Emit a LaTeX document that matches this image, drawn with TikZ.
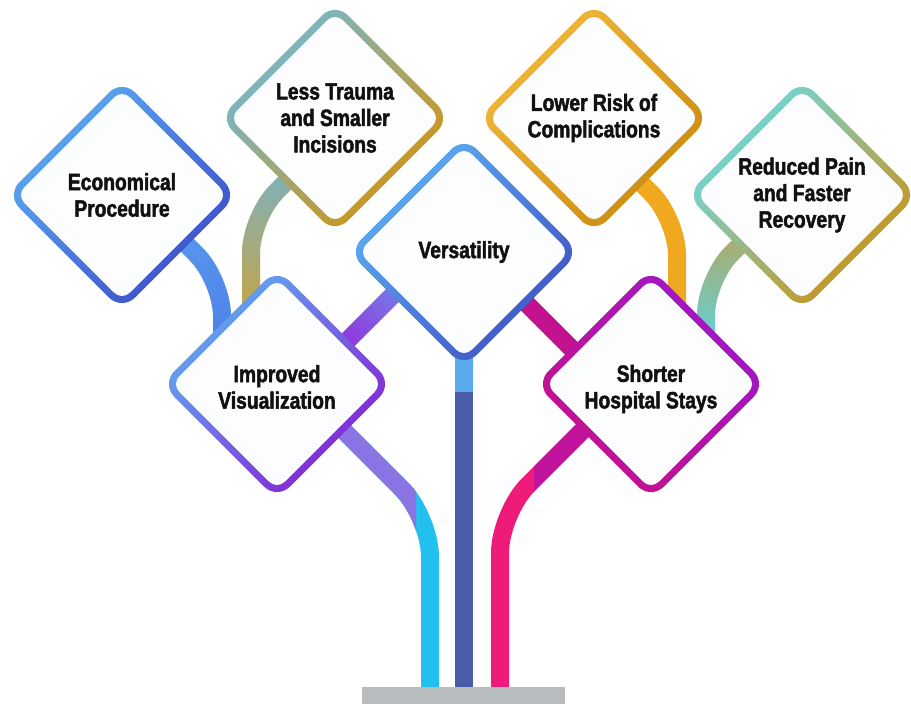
\documentclass[tikz,border=0pt]{standalone}
\usepackage{fontspec}
\newfontfamily\labelfont{Liberation Sans}[FakeStretch=0.82,FakeBold=2]
\usetikzlibrary{shapes.geometric,fadings}

% rim colours (top-left / bottom-right)
\definecolor{ink}{HTML}{111111}
\definecolor{faceC}{HTML}{FBFDFE}
\definecolor{ecoA}{HTML}{5DAEF3}\definecolor{ecoB}{HTML}{3B4BC6}
\definecolor{lesA}{HTML}{6EBBD9}\definecolor{lesB}{HTML}{D6920C}
\definecolor{verA}{HTML}{5DB3F3}\definecolor{verB}{HTML}{3E4FC2}
\definecolor{visA}{HTML}{5DB2F2}\definecolor{visB}{HTML}{8A1BD2}
\definecolor{stayA}{HTML}{9C19C6}\definecolor{stayB}{HTML}{C8108C}
\definecolor{painA}{HTML}{6ADCE9}\definecolor{painB}{HTML}{CF8F12}
\definecolor{riskA}{HTML}{F3BA3C}\definecolor{riskB}{HTML}{C98A0F}
% pipe colours
\definecolor{ecoPipe}{HTML}{4A7DE6}\definecolor{ecoPipeHi}{HTML}{5C9CF0}
\definecolor{lesLo}{HTML}{D2A232}\definecolor{lesHi}{HTML}{74B4CF}
\definecolor{riskPipe}{HTML}{F0A91F}
\definecolor{painLo}{HTML}{5DD3E3}\definecolor{painHi}{HTML}{C2A24A}
\definecolor{barPurple}{HTML}{9B1ED8}\definecolor{barBlue}{HTML}{7090EA}
\definecolor{barMagenta}{HTML}{C3128F}
\definecolor{trunkDark}{HTML}{4B5DA9}\definecolor{trunkLight}{HTML}{5AABEE}
\definecolor{cyanPipe}{HTML}{21C0EE}\definecolor{lavPipe}{HTML}{8A73E2}
\definecolor{pinkPipe}{HTML}{EE1B7B}\definecolor{magPipe}{HTML}{C2139D}
\definecolor{baseGray}{HTML}{B9BCBF}

\begin{document}
\begin{tikzpicture}[x=1pt,y=-1pt,
  rim/.style={diamond, aspect=1, minimum width=231pt, minimum height=231pt,
    inner sep=0pt, outer sep=0pt, rounded corners=18pt},
  face/.style={diamond, aspect=1, minimum width=211pt, minimum height=211pt,
    inner sep=0pt, outer sep=0pt, rounded corners=11pt, fill=faceC},
  lbl/.style={align=center, inner sep=0pt, text=ink,
    font=\labelfont\bfseries\fontsize{23.5}{26.5}\selectfont},
  pipe/.style={line width=18pt, line cap=butt, rounded corners=36pt},
  pipeLong/.style={line width=18pt, line cap=butt, rounded corners=40pt},
]
\useasboundingbox (0,0) rectangle (911,704);

% ---- pipe routing points ----
\coordinate (eco-pipe) at (150,208);  \coordinate (eco-bend) at (222,280);  \coordinate (eco-end) at (222,360);
\coordinate (les-pipe) at (310,158);  \coordinate (les-bend) at (251,217);  \coordinate (les-end) at (251,330);
\coordinate (risk-pipe) at (620,162); \coordinate (risk-bend) at (677,219); \coordinate (risk-end) at (677,330);
\coordinate (pain-pipe) at (770,215); \coordinate (pain-bend) at (706,279); \coordinate (pain-end) at (706,340);
\coordinate (ver-left) at (420,268);  \coordinate (vis-top) at (320,368);
\coordinate (ver-right) at (500,277); \coordinate (stay-top) at (600,377);
\coordinate (ver-pipe) at (464,330);  \coordinate (ver-mid) at (464,392);   \coordinate (ver-foot) at (464,687);
\coordinate (vis-pipe) at (320,407);  \coordinate (vis-bend) at (430,517);  \coordinate (vis-foot) at (430,687);
\coordinate (stay-pipe) at (610,403); \coordinate (stay-bend) at (500,513); \coordinate (stay-foot) at (500,687);

% ---- branches of the upper ring ----
\draw[pipe, ecoPipe] (eco-pipe) -- (eco-bend) -- (eco-end);
\draw[pipe, ecoPipeHi, path fading=south] (eco-pipe) -- (eco-bend) -- (eco-end);
\draw[pipe, lesLo] (les-pipe) -- (les-bend) -- (les-end);
\draw[pipe, lesHi, path fading=south] (les-pipe) -- (les-bend) -- (les-end);
\draw[pipe, riskPipe] (risk-pipe) -- (risk-bend) -- (risk-end);
\draw[pipe, painLo] (pain-pipe) -- (pain-bend) -- (pain-end);
\draw[pipe, painHi, path fading=south] (pain-pipe) -- (pain-bend) -- (pain-end);

% ---- short links from the central diamond ----
\draw[pipe, barPurple] (ver-left) -- (vis-top);
\draw[pipe, barBlue, path fading=south, fading angle=-45] (ver-left) -- (vis-top);
\draw[pipe, barMagenta] (ver-right) -- (stay-top);

% ---- trunk ----
\draw[pipe, trunkDark] (ver-pipe) -- (ver-foot);
\draw[pipe, trunkLight] (ver-pipe) -- (ver-mid);

\draw[pipeLong, cyanPipe] (vis-pipe) -- (vis-bend) -- (vis-foot);
\begin{scope}
  \clip (0,0) rectangle (416,704);
  \draw[pipeLong, lavPipe] (vis-pipe) -- (vis-bend) -- (vis-foot);
\end{scope}

\draw[pipeLong, pinkPipe] (stay-pipe) -- (stay-bend) -- (stay-foot);
\begin{scope}
  \clip (534,0) rectangle (911,704);
  \draw[pipeLong, magPipe] (stay-pipe) -- (stay-bend) -- (stay-foot);
\end{scope}

% ---- stand ----
\fill[baseGray] (362,687) rectangle (565,704);

% ---- diamonds ----
\node[rim, top color=ecoA, bottom color=ecoB, shading angle=45] (eco-rim) at (122,195) {};
\node[face] (eco) at (122,195) {};
\node[lbl] (eco-text) at (eco) {Economical\\Procedure};

\node[rim, top color=lesA, bottom color=lesB, shading angle=45] (les-rim) at (335,118) {};
\node[face] (les) at (335,118) {};
\node[lbl] (les-text) at (les) {Less Trauma\\and Smaller\\Incisions};

\node[rim, top color=riskA, bottom color=riskB, shading angle=45] (risk-rim) at (594,118) {};
\node[face] (risk) at (594,118) {};
\node[lbl] (risk-text) at (risk) {Lower Risk of\\Complications};

\node[rim, top color=painA, bottom color=painB, shading angle=45] (pain-rim) at (802,195) {};
\node[face] (pain) at (802,195) {};
\node[lbl] (pain-text) at (pain) {Reduced Pain\\and Faster\\Recovery};

\node[rim, top color=verA, bottom color=verB, shading angle=45] (ver-rim) at (464,252) {};
\node[face] (ver) at (464,252) {};
\node[lbl] (ver-text) at (ver) {Versatility};

\node[rim, top color=visA, bottom color=visB, shading angle=45] (vis-rim) at (277,384) {};
\node[face] (vis) at (277,384) {};
\node[lbl] (vis-text) at ([yshift=-3pt]vis.center) {Improved\\Visualization};

\node[rim, top color=stayA, bottom color=stayB, shading angle=-45] (stay-rim) at (651,384) {};
\node[face] (stay) at (651,384) {};
\node[lbl] (stay-text) at ([yshift=-5pt]stay.center) {Shorter\\Hospital Stays};
\end{tikzpicture}
\end{document}
